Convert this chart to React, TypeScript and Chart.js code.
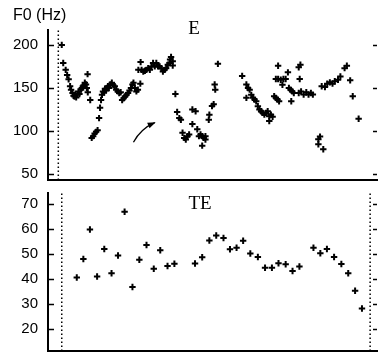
import React, { useEffect, useRef } from "react";
import { Chart, registerables } from "chart.js";

Chart.register(...registerables);

// ---------- data ----------
// time axis (arbitrary units, 0..335)
const xRange = [0, 335];

// Panel E : F0 (Hz)
const topTimes = [
  14, 15.5, 18, 19.5, 21, 22.5, 23.5, 25, 26, 27, 28, 28.7, 30, 31, 32, 33.7, 34.5, 35.5, 36.3, 37.5, 38.7, 39.5, 40.3, 40.5, 43,
  44.5, 46, 47.5, 49, 50.5, 52, 53, 54,
  55, 56, 57, 58, 59, 60, 61, 62, 63.5, 65, 66.5, 68, 69.5, 71, 72.5, 74, 75.5, 77, 78.5, 80, 81.5, 83, 84.5, 86, 87, 88.5, 90, 91.5, 94,
  92, 94.3, 95.3, 97, 98.7, 100.3, 102, 103.7, 105.3, 107, 108.7, 110.3, 112, 113.7, 115.3, 117, 118.7, 120.3, 122, 123.7, 124.3, 125.3, 127, 127,
  129.7, 131.5, 133.7, 135.3, 137, 138.7, 140.3, 142, 143.7,
  147, 150.3, 147, 152, 153.7, 155.3, 157, 158.5, 160.3, 157, 160.3,
  163.7, 164.3, 167, 168.7, 170.3, 169.7, 173,
  197.7, 202, 203.7, 205.3, 207, 202, 208.7, 210.3, 212, 213.7, 215.3, 217, 218.7, 220.3, 222, 223.7, 225.3, 227, 225.3, 228.7,
  230.3, 232, 233.7, 235.3, 234.3, 232, 234.3, 237, 239.7, 242, 238.7, 244.3, 247.7, 245.3, 247, 248.7, 250.3,
  255.3, 257, 256.3, 255.3, 257.7, 260.3, 263, 265.3, 267.7, 269.7,
  275.3, 277, 275.3, 280.3,
  278.7, 282, 284.3, 287, 289.7, 292, 295.3, 297.7, 302, 304.3, 307.7, 310.3, 316.3,
];
const topF0 = [
  200, 179, 171, 165, 160, 152, 148, 144, 141, 140, 143, 139, 142, 146, 143, 148, 150, 152, 153, 156, 154, 150, 166, 145, 136,
  92, 94, 97, 99, 101, 115, 127, 136,
  142, 146, 145, 149, 147, 150, 152, 150, 154, 156, 153, 152, 148, 146, 144, 145, 136, 138, 140, 142, 144, 147, 150, 154, 156, 150, 146, 148, 155,
  171, 180, 171, 169, 170, 171, 173, 171, 175, 179, 175, 179, 175, 175, 173, 169, 171, 173, 177, 179, 183, 186, 181, 176,
  143, 122, 115, 113, 98, 92, 90, 94, 96,
  125, 123, 108, 102, 94, 96, 94, 92, 94, 83, 90,
  113, 119, 129, 131, 148, 154, 178,
  164, 154, 150, 148, 142, 138.5, 138.5, 136.5, 134.6, 128.8, 125, 123, 121, 119, 121, 123, 117, 119, 111.5, 116.5,
  140.4, 138.5, 136.5, 134.6, 175.8, 160.4, 160.4, 159.6, 160.4, 160.4, 153.8, 168.1, 134.6, 150, 148, 146, 144,
  174, 177, 160.4, 144.2, 146, 142.3, 145, 142.3, 144.2, 142.3,
  90.4, 93.5, 84.6, 78.8,
  152, 151, 155, 156.5, 155, 157.7, 159.6, 163.4, 173, 175.8, 158.8, 140.4, 114.3,
];
const topTicks = [50, 100, 150, 200];
const topRange = [43.1, 217.3];
const topBoundaries = [10.5];
const arrowTimes = [87, 108.7];
const arrowF0 = [86.9, 109.7];

// Panel TE
const bottomTimes = [
  29.3, 36, 42.7, 50, 57.3, 64.7, 71.3, 78, 86, 93, 100.3, 107.7, 114.3, 121.7, 128.7,
  149.7, 157, 164.3, 171.3, 178.7, 185.3, 192, 198.7, 206, 213.7, 221, 228, 234.7, 242, 249, 256,
  270.3, 277.3, 284, 291.3, 298.7, 305.7, 312.7, 319.7,
];
const bottomTE = [
  40.5, 47.9, 59.7, 40.9, 51.9, 42.2, 49.3, 66.8, 36.7, 47.6, 53.5, 44.0, 51.4, 45.1, 46.0,
  46.1, 48.6, 55.3, 57.3, 56.3, 51.8, 52.4, 55.2, 50.1, 48.7, 44.4, 44.4, 46.2, 45.8, 43.1, 44.9,
  52.4, 50.2, 51.9, 48.7, 45.9, 42.2, 35.2, 28.1,
];
const bottomTicks = [20, 30, 40, 50, 60, 70];
const bottomRange = [11.1, 74.3];
const bottomBoundaries = [14, 328];

// ---------- drawing ----------
type TextItem = { text: string; x: number; y: number; font: string; align: CanvasTextAlign };

function makeDecor(name: string, texts: TextItem[], arrow: boolean) {
  return {
    id: "decor_" + name,
    afterDraw(chart: any) {
      const { ctx, chartArea, scales } = chart;
      const y = scales.y;
      const x = scales.x;
      ctx.save();
      ctx.strokeStyle = "#000";
      ctx.fillStyle = "#000";
      ctx.lineWidth = 1.5;
      for (const t of y.ticks) {
        const py = Math.round(y.getPixelForValue(t.value)) + 0.5;
        ctx.beginPath();
        ctx.moveTo(chartArea.left, py);
        ctx.lineTo(chartArea.left + 6, py);
        ctx.moveTo(chartArea.right, py);
        ctx.lineTo(chartArea.right - 4, py);
        ctx.stroke();
      }
      if (arrow) {
        const x0 = x.getPixelForValue(arrowTimes[0]);
        const y0 = y.getPixelForValue(arrowF0[0]);
        const x1 = x.getPixelForValue(arrowTimes[1]);
        const y1 = y.getPixelForValue(arrowF0[1]);
        const mx = (x0 + x1) / 2;
        const my = (y0 + y1) / 2;
        const dx = x1 - x0;
        const dy = y1 - y0;
        const len = Math.hypot(dx, dy);
        const nx = dy / len;
        const ny = -dx / len;
        // perpendicular bowing up-left
        const cx = mx - Math.abs(nx) * 5;
        const cy = my - Math.abs(ny) * 5;
        ctx.lineWidth = 1.3;
        ctx.beginPath();
        ctx.moveTo(x0, y0);
        ctx.quadraticCurveTo(cx, cy, x1, y1);
        ctx.stroke();
        const ang = Math.atan2(y1 - cy, x1 - cx);
        const hl = 7;
        const hw = 3;
        ctx.beginPath();
        ctx.moveTo(x1 + Math.cos(ang) * 1, y1 + Math.sin(ang) * 1);
        ctx.lineTo(x1 - Math.cos(ang) * hl - Math.sin(ang) * hw, y1 - Math.sin(ang) * hl + Math.cos(ang) * hw);
        ctx.lineTo(x1 - Math.cos(ang) * hl + Math.sin(ang) * hw, y1 - Math.sin(ang) * hl - Math.cos(ang) * hw);
        ctx.closePath();
        ctx.fill();
      }
      ctx.textBaseline = "middle";
      for (const t of texts) {
        ctx.font = t.font;
        ctx.textAlign = t.align;
        ctx.fillText(t.text, t.x, t.y);
      }
      ctx.restore();
    },
  };
}

type PanelProps = {
  name: string;
  top: number;
  height: number;
  xs: number[];
  ys: number[];
  ticks: number[];
  range: number[];
  bounds: number[];
  padTop: number;
  axisH: number;
  texts: TextItem[];
  arrow: boolean;
};

function Panel(p: PanelProps) {
  const ref = useRef<HTMLCanvasElement>(null);
  useEffect(() => {
    if (!ref.current) return;
    const pts = p.xs.map((x, i) => ({ x, y: p.ys[i] }));
    const datasets: any[] = [
      ...p.bounds.map((b) => ({
        data: [
          { x: b, y: p.range[0] },
          { x: b, y: p.range[1] },
        ],
        showLine: true,
        borderColor: "#000",
        borderWidth: 1.5,
        borderDash: [1.5, 2.5],
        pointRadius: 0,
      })),
      {
        data: pts,
        showLine: false,
        pointStyle: "cross",
        pointRadius: 3.2,
        pointBorderColor: "#000",
        pointBorderWidth: 2,
        borderColor: "#000",
        borderWidth: 2,
      },
    ];
    const chart = new Chart(ref.current, {
      type: "scatter",
      data: { datasets },
      options: {
        animation: false,
        responsive: false,
        events: [],
        layout: { padding: { top: p.padTop, left: 0, right: 0, bottom: 0 } },
        plugins: { legend: { display: false }, tooltip: { enabled: false } },
        scales: {
          x: {
            type: "linear",
            min: xRange[0],
            max: xRange[1],
            ticks: { display: false },
            grid: { display: false, drawTicks: false },
            border: { display: true, color: "#000", width: 2 },
            afterFit: (s: any) => {
              s.height = p.axisH;
            },
          },
          y: {
            type: "linear",
            min: p.range[0],
            max: p.range[1],
            afterBuildTicks: (s: any) => {
              s.ticks = p.ticks.map((v) => ({ value: v }));
            },
            ticks: {
              color: "#000",
              font: { family: "'Liberation Sans', Arial, sans-serif", size: 15 },
              padding: 10,
            },
            grid: { display: false, drawTicks: false },
            border: { display: true, color: "#000", width: 2 },
            afterFit: (s: any) => {
              s.width = 48;
              s.paddingTop = 0;
              s.paddingBottom = 0;
            },
          },
        },
      } as any,
      plugins: [makeDecor(p.name, p.texts, p.arrow)],
    });
    return () => chart.destroy();
  }, []);
  return (
    <canvas
      ref={ref}
      width={383}
      height={p.height}
      style={{ position: "absolute", left: 0, top: p.top, width: 383, height: p.height, display: "block" }}
    />
  );
}

export default function App() {
  return (
    <div style={{ position: "absolute", left: 0, top: 0, width: 383, height: 357, background: "#fff", overflow: "hidden" }}>
      <Panel
        name="E"
        top={0}
        height={186}
        xs={topTimes}
        ys={topF0}
        ticks={topTicks}
        range={topRange}
        bounds={topBoundaries}
        padTop={30}
        axisH={5}
        arrow={true}
        texts={[
          { text: "F0 (Hz)", x: 13, y: 16, font: "16px 'Liberation Sans', Arial, sans-serif", align: "left" },
          { text: "E", x: 194, y: 29, font: "19px 'Liberation Serif', 'Times New Roman', serif", align: "center" },
        ]}
      />
      <Panel
        name="TE"
        top={186}
        height={171}
        xs={bottomTimes}
        ys={bottomTE}
        ticks={bottomTicks}
        range={bottomRange}
        bounds={bottomBoundaries}
        padTop={7}
        axisH={1}
        arrow={false}
        texts={[{ text: "TE", x: 200, y: 18, font: "19px 'Liberation Serif', 'Times New Roman', serif", align: "center" }]}
      />
    </div>
  );
}
